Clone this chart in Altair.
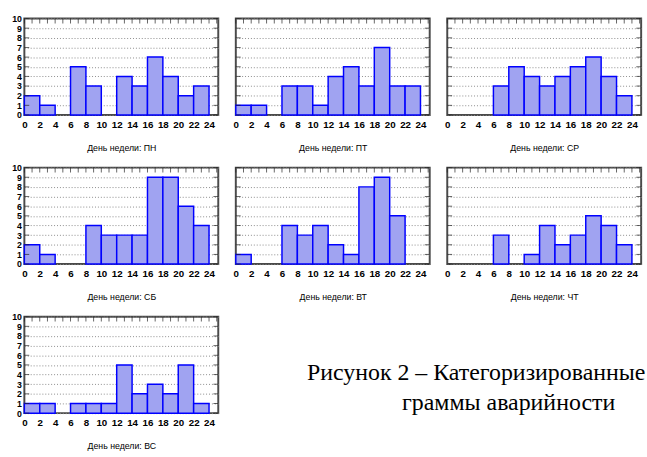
import altair as alt
import pandas as pd

# ---- data ----
hours = [0, 2, 4, 6, 8, 10, 12, 14, 16, 18, 20, 22]
days = ["ПН", "ПТ", "СР", "СБ", "ВТ", "ЧТ", "ВС"]
mon = [2, 1, 0, 5, 3, 0, 4, 3, 6, 4, 2, 3]
fri = [1, 1, 0, 3, 3, 1, 4, 5, 3, 7, 3, 3]
wed = [0, 0, 0, 3, 5, 4, 3, 4, 5, 6, 4, 2]
sat = [2, 1, 0, 0, 4, 3, 3, 3, 9, 9, 6, 4]
tue = [1, 0, 0, 4, 3, 4, 2, 1, 8, 9, 5, 0]
thu = [0, 0, 0, 3, 0, 1, 4, 2, 3, 5, 4, 2]
sun = [1, 1, 0, 1, 1, 1, 5, 2, 3, 2, 5, 1]
series = [mon, fri, wed, sat, tue, thu, sun]
x_labels = [0, 2, 4, 6, 8, 10, 12, 14, 16, 18, 20, 22, 24]
x_minor = list(range(0, 26))
y_ticks = list(range(0, 11))
title_prefix = "День недели: "
caption = ["Рисунок 2 – Категоризированные", "граммы аварийности"]

W, H = 199, 99
BLUE = "#0000ff"
FILL = "#a0a3f1"
FRAME = "#4a4a4a"


def panel(day, counts, first_col):
    df = pd.DataFrame({"start": hours, "end": [h + 2 for h in hours], "count": counts})
    df = df[df["count"] > 0]
    xs = alt.Scale(domain=[0, 25.2], nice=False, zero=False)
    ys = alt.Scale(domain=[0, 10], nice=False)
    xaxis = alt.Axis(values=x_labels, format="d", title=title_prefix + day,
                     grid=False, domain=False, ticks=False, labelPadding=5,
                     labelFlush=False, labelOverlap=False, titlePadding=14,
                     labelFontSize=10, labelFontWeight="bold",
                     titleFontSize=9, titleFontWeight="normal")
    yaxis = alt.Axis(values=y_ticks, format="d", title=None, grid=True,
                     gridDash=[1, 2], gridColor="#8a8a8a", gridWidth=1,
                     labels=first_col, ticks=False, domain=False, labelPadding=3,
                     labelFlush=False, labelOverlap=False,
                     labelFontSize=9, labelFontWeight="bold")
    bars = alt.Chart(df).mark_bar(fill=FILL, stroke=BLUE, strokeWidth=1.5).encode(
        x=alt.X("start:Q", scale=xs, axis=xaxis),
        x2="end:Q",
        y=alt.Y("count:Q", scale=ys, axis=yaxis),
        y2=alt.datum(0),
    )
    tx = pd.DataFrame({"start": x_minor})
    ty = pd.DataFrame({"count": y_ticks})
    top_ticks = alt.Chart(tx).mark_tick(color="#222", size=5, thickness=1, orient="vertical").encode(
        x=alt.X("start:Q", scale=xs, axis=xaxis), y=alt.value(2.5))
    left_ticks = alt.Chart(ty).mark_tick(color="#222", size=5, thickness=1, orient="horizontal").encode(
        y=alt.Y("count:Q", scale=ys, axis=yaxis), x=alt.value(2.5))
    right_ticks = alt.Chart(ty).mark_tick(color="#222", size=5, thickness=1, orient="horizontal").encode(
        y=alt.Y("count:Q", scale=ys, axis=yaxis), x=alt.value(W - 2.5))
    return alt.layer(bars, top_ticks, left_ticks, right_ticks).properties(
        width=W, height=H, view=alt.ViewBackground(stroke=FRAME, strokeWidth=2))


panels = [panel(d, s, i % 3 == 0) for i, (d, s) in enumerate(zip(days, series))]

cap_df = pd.DataFrame({"line": caption})
cap1 = alt.Chart(cap_df.iloc[[0]]).mark_text(font="Liberation Serif", fontSize=24.5, align="left",
                                             baseline="alphabetic", color="black").encode(
    text="line:N", x=alt.value(76), y=alt.value(65))
cap2 = alt.Chart(cap_df.iloc[[1]]).mark_text(font="Liberation Serif", fontSize=24.5, align="center",
                                             baseline="alphabetic", color="black").encode(
    text="line:N", x=alt.value(283), y=alt.value(96))
cap = alt.layer(cap1, cap2).properties(width=398, height=H,
                                      view=alt.ViewBackground(stroke="transparent"))

row1 = alt.hconcat(panels[0], panels[1], panels[2], spacing=13)
row2 = alt.hconcat(panels[3], panels[4], panels[5], spacing=13)
row3 = alt.hconcat(panels[6], cap, spacing=13)

chart = alt.vconcat(row1, row2, row3, spacing=10).properties(
    padding={"left": 10, "top": 8, "right": 0, "bottom": 0}
).configure_axis(
    labelFont="Liberation Sans", labelColor="#111",
    titleFont="Liberation Sans", titleColor="#111"
).configure(background="white")

chart.save("out.html", embed_options={"renderer": "svg", "actions": False})
